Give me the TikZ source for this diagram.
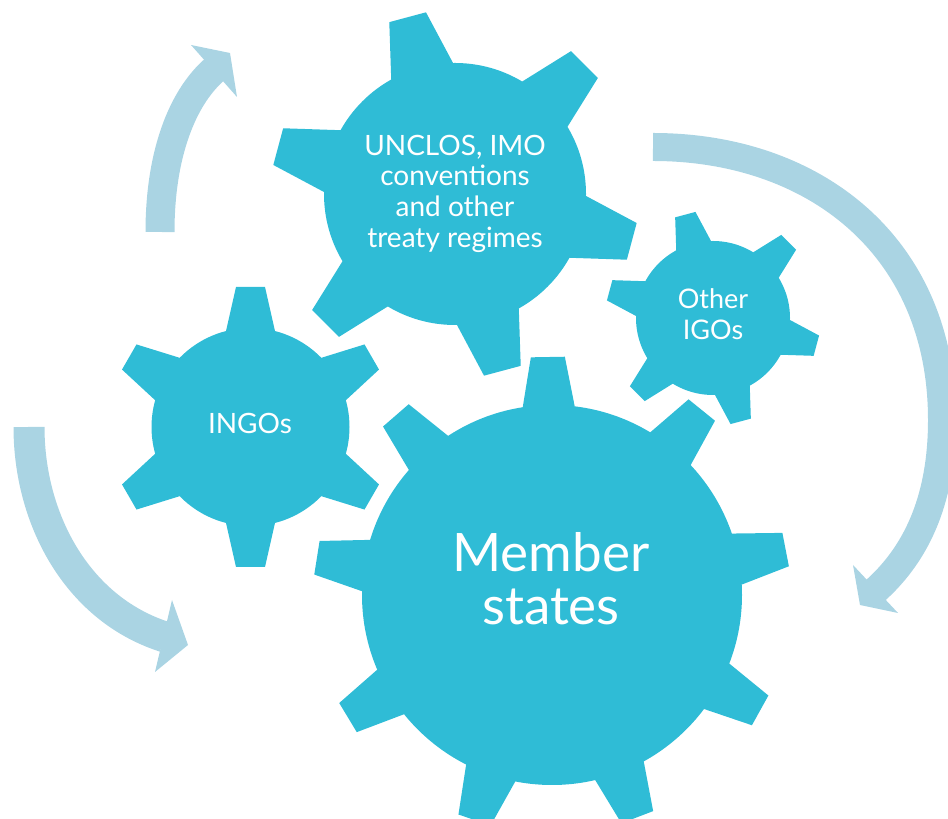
\documentclass[tikz,border=0pt]{standalone}
\usepackage{fontspec}
\setmainfont{Lato}
\definecolor{gearcol}{RGB}{47,188,214}
\definecolor{arrowcol}{RGB}{170,212,227}
% #1 cx, #2 cy, #3 inner r, #4 outer r, #5 teeth, #6 first angle, #7 base half-width, #8 tip half-width
\newcommand\drawgear[8]{%
  \begin{scope}[shift={(#1,#2)}]
    \fill[gearcol] (0,0) circle[radius=#3];
    \foreach \k in {1,...,#5}{%
      \pgfmathsetmacro\ang{#6+360/#5*(\k-1)}%
      \fill[gearcol,rotate=\ang] (0,-#7) -- ({#3*cos(asin(#7/#3))},-#7) -- (#4,-#8)
        -- (#4,#8) -- ({#3*cos(asin(#7/#3))},#7) -- (0,#7) -- cycle;
    }
  \end{scope}}
\begin{document}
\begin{tikzpicture}[x=1pt,y=1pt,
  band/.style={draw=arrowcol,line width=#1pt},
  headfill/.style={fill=arrowcol},
  gtext/.style={text=white,align=center,inner sep=0pt}]
\useasboundingbox (0,0) rectangle (948,819);

% gears
\drawgear{552}{224}{190}{238}{9}{11}{26}{17}
\drawgear{455}{625}{131}{183}{6}{-15}{32}{19}
\drawgear{713}{501}{77}{107}{6}{-15}{18}{10.5}
\drawgear{250.5}{392}{99}{140}{6}{30}{24.5}{14.5}

% curved arrows
\draw[band=29] (160,587) .. controls (160,667) and (183.4,721.2) .. (213,748) -- ++(2.2,2);
\fill[headfill] (191,774) -- (230,766) -- (237,722) -- cycle;

\draw[band=28] (653,672) .. controls (813,672) and (942,574) .. (942,399)
  .. controls (942,334) and (925,274) .. (877,230) -- ++(-2.2,-2);
\fill[headfill] (853,254) -- (860,214) -- (898,206) -- cycle;

\draw[band=31] (29,392) .. controls (29,301) and (76,212) .. (162,183) -- ++(2.9,-1);
\fill[headfill] (172,219) -- (188,174) -- (155,147) -- cycle;

% labels
\node[gtext,font=\fontsize{53}{53}\selectfont] (member) at (551,240) {Member\\states};
\node[gtext,font=\fontsize{28}{30.7}\selectfont] (unclos) at (455,625.5) {UNCLOS, IMO\\conventions\\and other\\treaty regimes};
\node[gtext,font=\fontsize{27}{31}\selectfont] (igos) at (713,505) {Other\\IGOs};
\node[gtext,font=\fontsize{28}{28}\selectfont] (ingos) at (250,396) {INGOs};
\end{tikzpicture}
\end{document}
